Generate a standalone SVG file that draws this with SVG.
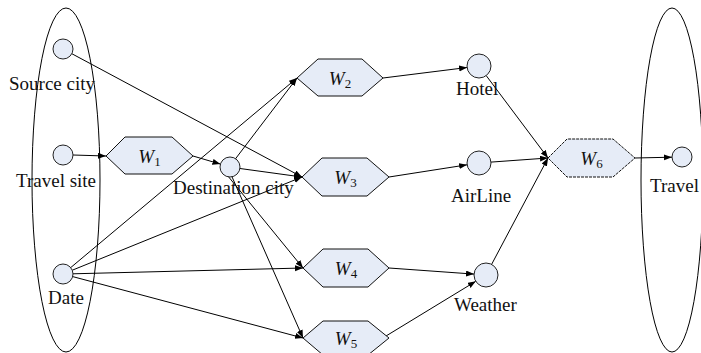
<svg xmlns="http://www.w3.org/2000/svg" width="701" height="353" viewBox="0 0 701 353">
<style>
.grp{fill:none;stroke:#000;stroke-width:1}
.nd{fill:#e6ecf7;stroke:#222;stroke-width:1}
.hx{fill:#e6ecf7;stroke:#111;stroke-width:1}
.dash{stroke-dasharray:3,1}
.lbl{font-family:"Liberation Serif","Times New Roman",serif;font-size:19px;fill:#111}
.w{font-family:"Liberation Serif","Times New Roman",serif;font-size:19px;font-style:italic;fill:#111;text-anchor:middle}
.sub{font-size:13px;font-style:normal}
.c{fill:none;stroke:#000;stroke-width:1;marker-end:url(#ah)}
</style>
<defs>
<marker id="ah" markerUnits="userSpaceOnUse" markerWidth="9" markerHeight="7" refX="8" refY="3" orient="auto">
<path d="M0,0 L8,3 L0,6 z" fill="#000"/>
</marker>
</defs>
<rect width="701" height="353" fill="#fff"/>
<g id="input-group"><ellipse class="grp" cx="66" cy="180" rx="34" ry="172"/></g>
<g id="output-group"><ellipse class="grp" cx="672" cy="180" rx="31" ry="172"/></g>
<g id="connectors">
<line class="c" x1="71.8" y1="53.7" x2="302" y2="177"/>
<line class="c" x1="73" y1="155" x2="106" y2="156"/>
<line class="c" x1="193" y1="156" x2="220.4" y2="164.1"/>
<line class="c" x1="70.7" y1="267.6" x2="297" y2="78"/>
<line class="c" x1="230" y1="166" x2="297" y2="78"/>
<line class="c" x1="240" y1="168.5" x2="302" y2="177"/>
<line class="c" x1="72.3" y1="270.2" x2="302" y2="177"/>
<line class="c" x1="73" y1="273.8" x2="303" y2="268"/>
<line class="c" x1="72.7" y1="276.6" x2="303" y2="338"/>
<line class="c" x1="223" y1="170" x2="303" y2="268"/>
<line class="c" x1="229" y1="170" x2="303" y2="338"/>
<line class="c" x1="383" y1="78" x2="467.1" y2="67.5"/>
<line class="c" x1="389" y1="177" x2="467.1" y2="164.8"/>
<line class="c" x1="389" y1="268" x2="474" y2="274.1"/>
<line class="c" x1="386" y1="336" x2="475.8" y2="281.3"/>
<line class="c" x1="486.2" y1="75.6" x2="548" y2="158"/>
<line class="c" x1="491" y1="162.1" x2="548" y2="158"/>
<line class="c" x1="491.6" y1="264.4" x2="548" y2="158"/>
<line class="c" x1="635" y1="158" x2="672" y2="157.2"/>
</g>
<g id="source-city"><circle class="nd" cx="63" cy="49" r="10"/><text class="lbl" x="9" y="90">Source city</text></g>
<g id="travel-site"><circle class="nd" cx="63" cy="155" r="10"/><text class="lbl" x="16" y="187">Travel site</text></g>
<g id="date"><circle class="nd" cx="63" cy="274" r="10"/><text class="lbl" x="48" y="304">Date</text></g>
<g id="destination-city"><circle class="nd" cx="230" cy="167" r="10"/><text class="lbl" x="173" y="194">Destination city</text></g>
<g id="hotel"><circle class="nd" cx="479" cy="66" r="12"/><text class="lbl" x="456" y="95">Hotel</text></g>
<g id="airline"><circle class="nd" cx="479" cy="163" r="12"/><text class="lbl" x="451" y="202">AirLine</text></g>
<g id="weather"><circle class="nd" cx="486" cy="275" r="12"/><text class="lbl" x="454" y="311">Weather</text></g>
<g id="travel"><circle class="nd" cx="682" cy="157" r="10"/><text class="lbl" x="650" y="192">Travel</text></g>
<g id="w1"><polygon class="hx" points="106,156 125,137 172,137 193,156 172,174 125,174"/><text class="w" x="149.5" y="163">W<tspan class="sub" dy="3">1</tspan></text></g>
<g id="w2"><polygon class="hx" points="297,78 318,59 362,59 383,78 362,96 318,96"/><text class="w" x="340" y="85">W<tspan class="sub" dy="3">2</tspan></text></g>
<g id="w3"><polygon class="hx" points="302,177 322,158 367,158 389,177 367,196 322,196"/><text class="w" x="345.5" y="184">W<tspan class="sub" dy="3">3</tspan></text></g>
<g id="w4"><polygon class="hx" points="303,268 323,249 368,249 389,268 368,287 323,287"/><text class="w" x="346" y="275">W<tspan class="sub" dy="3">4</tspan></text></g>
<g id="w5"><polygon class="hx" points="303,338 323,321 368,321 389,338 368,355 323,355"/><text class="w" x="346" y="345">W<tspan class="sub" dy="3">5</tspan></text></g>
<g id="w6"><polygon class="hx dash" points="548,158 567,139 613,139 635,158 613,177 567,177"/><text class="w" x="591.5" y="165">W<tspan class="sub" dy="3">6</tspan></text></g>
</svg>
